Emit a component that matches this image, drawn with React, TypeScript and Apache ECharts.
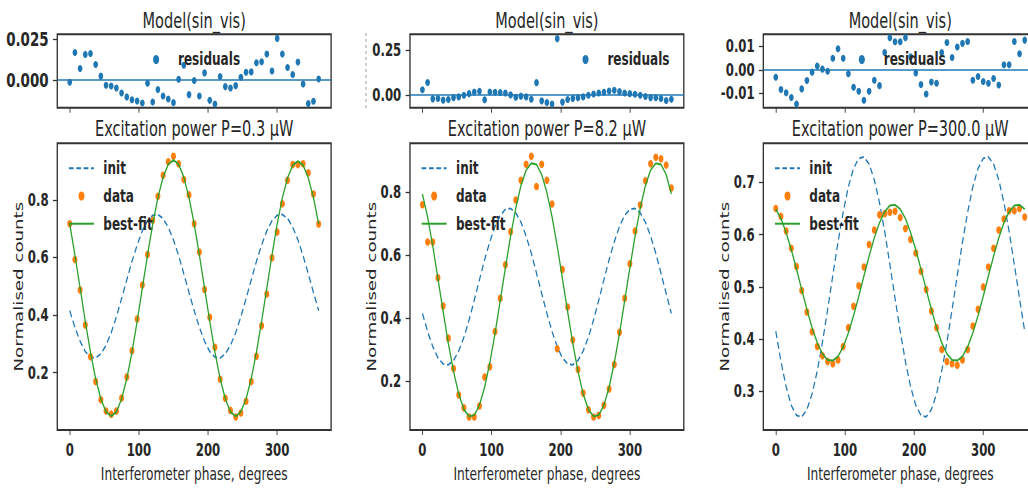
import React, { useEffect, useRef } from 'react';
import * as echarts from 'echarts';

// ---------------- data ----------------
const PHASE = [0, 7.5, 15, 22.5, 30, 37.5, 45, 52.5, 60, 67.5, 75, 82.5, 90, 97.5, 105, 112.5, 120, 127.5, 135, 142.5, 150, 157.5, 165, 172.5, 180, 187.5, 195, 202.5, 210, 217.5, 225, 232.5, 240, 247.5, 255, 262.5, 270, 277.5, 285, 292.5, 300, 307.5, 315, 322.5, 330, 337.5, 345, 352.5, 360];

const INIT_CURVE = [0.415, 0.357, 0.309, 0.273, 0.254, 0.251, 0.265, 0.295, 0.339, 0.394, 0.457, 0.522, 0.586, 0.643, 0.692, 0.727, 0.746, 0.749, 0.735, 0.705, 0.661, 0.606, 0.543, 0.478, 0.415, 0.357, 0.309, 0.273, 0.254, 0.251, 0.265, 0.295, 0.339, 0.394, 0.457, 0.522, 0.586, 0.643, 0.692, 0.727, 0.746, 0.749, 0.735, 0.705, 0.661, 0.606, 0.543, 0.478, 0.415];

const DATA_P03 = [0.717, 0.593, 0.487, 0.365, 0.255, 0.169, 0.106, 0.067, 0.056, 0.067, 0.112, 0.185, 0.276, 0.386, 0.504, 0.610, 0.729, 0.812, 0.885, 0.932, 0.951, 0.925, 0.870, 0.817, 0.717, 0.619, 0.489, 0.392, 0.288, 0.177, 0.111, 0.069, 0.046, 0.060, 0.101, 0.169, 0.257, 0.363, 0.473, 0.599, 0.688, 0.786, 0.868, 0.922, 0.922, 0.925, 0.894, 0.820, 0.716];
const FIT_P03 = [0.716, 0.608, 0.494, 0.378, 0.271, 0.179, 0.109, 0.064, 0.049, 0.064, 0.109, 0.179, 0.271, 0.378, 0.494, 0.608, 0.716, 0.808, 0.878, 0.923, 0.938, 0.923, 0.878, 0.808, 0.716, 0.608, 0.494, 0.378, 0.271, 0.179, 0.109, 0.064, 0.048, 0.064, 0.109, 0.179, 0.271, 0.378, 0.494, 0.608, 0.716, 0.807, 0.876, 0.920, 0.934, 0.920, 0.876, 0.807, 0.716];
const RESID_P03 = [-0.0012, 0.0170, 0.0072, 0.0158, 0.0164, 0.0096, 0.0025, -0.0031, -0.0035, -0.0047, -0.0078, -0.0102, -0.0119, -0.0127, -0.0139, -0.0018, -0.0133, -0.0057, -0.0096, -0.0115, -0.0137, 0.0006, 0.0092, -0.0088, -0.0002, -0.0096, 0.0045, -0.0123, -0.0145, 0.0023, -0.0039, -0.0047, -0.0033, 0.0018, 0.0049, 0.0051, 0.0107, 0.0113, 0.0160, 0.0057, 0.0256, 0.0160, 0.0078, 0.0035, 0.0111, -0.0023, -0.0143, -0.0129, 0.0008];

const DATA_P82 = [0.761, 0.642, 0.642, 0.528, 0.438, 0.336, 0.239, 0.155, 0.114, 0.085, 0.085, 0.120, 0.212, 0.245, 0.357, 0.463, 0.570, 0.675, 0.776, 0.839, 0.890, 0.915, 0.819, 0.890, 0.839, 0.763, 0.302, 0.555, 0.435, 0.330, 0.236, 0.161, 0.108, 0.085, 0.090, 0.122, 0.174, 0.252, 0.355, 0.463, 0.573, 0.677, 0.760, 0.837, 0.891, 0.912, 0.907, 0.887, 0.814];
const FIT_P82 = [0.795, 0.722, 0.629, 0.525, 0.420, 0.319, 0.230, 0.158, 0.109, 0.087, 0.091, 0.123, 0.180, 0.258, 0.351, 0.455, 0.560, 0.661, 0.750, 0.822, 0.871, 0.893, 0.889, 0.857, 0.800, 0.722, 0.629, 0.525, 0.420, 0.319, 0.230, 0.158, 0.109, 0.087, 0.091, 0.123, 0.180, 0.258, 0.351, 0.455, 0.560, 0.661, 0.750, 0.822, 0.871, 0.893, 0.889, 0.857, 0.795];
const RESID_P82 = [0.029, 0.069, -0.022, -0.020, -0.029, -0.026, -0.015, -0.011, -0.002, 0.007, 0.016, 0.020, -0.027, 0.016, 0.015, 0.013, 0.011, 0.000, -0.013, -0.007, -0.011, -0.024, 0.068, -0.033, -0.042, -0.051, 0.312, -0.040, -0.026, -0.020, -0.016, -0.011, -0.002, 0.005, 0.011, 0.015, 0.022, 0.026, 0.018, 0.011, 0.007, 0.004, -0.002, -0.009, -0.015, -0.016, -0.020, -0.031, -0.024];

const DATA_P300 = [0.650, 0.635, 0.607, 0.574, 0.539, 0.493, 0.452, 0.414, 0.386, 0.368, 0.357, 0.353, 0.360, 0.386, 0.422, 0.463, 0.502, 0.538, 0.581, 0.609, 0.638, 0.640, 0.643, 0.645, 0.633, 0.612, 0.591, 0.565, 0.530, 0.495, 0.454, 0.422, 0.380, 0.357, 0.353, 0.350, 0.360, 0.380, 0.425, 0.457, 0.500, 0.538, 0.574, 0.609, 0.630, 0.646, 0.646, 0.650, 0.634];
const FIT_P300 = [0.649, 0.631, 0.604, 0.571, 0.534, 0.495, 0.457, 0.422, 0.393, 0.372, 0.360, 0.359, 0.367, 0.385, 0.412, 0.445, 0.482, 0.521, 0.559, 0.594, 0.623, 0.644, 0.656, 0.657, 0.649, 0.631, 0.604, 0.571, 0.534, 0.495, 0.457, 0.422, 0.393, 0.372, 0.360, 0.359, 0.367, 0.385, 0.412, 0.445, 0.482, 0.521, 0.559, 0.594, 0.623, 0.644, 0.656, 0.657, 0.649];
const RESID_P300 = [-0.0032, -0.0085, -0.0099, -0.0119, -0.0147, -0.0082, -0.0046, -0.0010, 0.0016, 0.0003, -0.0006, 0.0050, 0.0091, 0.0050, -0.0017, -0.0075, -0.0092, -0.0131, -0.0092, -0.0045, -0.0068, 0.0075, 0.0138, 0.0121, 0.0121, 0.0138, 0.0056, -0.0013, -0.0063, -0.0104, -0.0052, -0.0058, 0.0075, 0.0118, 0.0053, 0.0098, 0.0114, 0.0122, -0.0045, -0.0029, -0.0050, -0.0058, -0.0037, -0.0065, 0.0022, 0.0022, 0.0122, 0.0069, 0.0128];

const PANEL_TITLES = ['Excitation power P=0.3 μW', 'Excitation power P=8.2 μW', 'Excitation power P=300.0 μW'];
const RESID_TITLE = 'Model(sin_vis)';
const X_NAME = 'Interferometer phase, degrees';
const Y_NAME = 'Normalised counts';
const SERIES_NAMES = ['init', 'data', 'best-fit', 'residuals'];

const X_TICKS = [0, 100, 200, 300];
const X_RANGE = [-18, 378];
const MAIN_Y_TICKS = [[0.2, 0.4, 0.6, 0.8], [0.2, 0.4, 0.6, 0.8], [0.3, 0.4, 0.5, 0.6, 0.7]];
const MAIN_Y_RANGE = [[0.001, 0.996], [0.0435, 0.9565], [0.226, 0.775]];
const RESID_Y_TICKS = [[0, 0.025], [0, 0.25], [-0.01, 0, 0.01]];
const RESID_DECIMALS = [3, 2, 2];
const RESID_Y_RANGE = [[-0.0168, 0.0281], [-0.071, 0.336], [-0.0163, 0.0153]];

const DATA_SETS = [DATA_P03, DATA_P82, DATA_P300];
const FIT_SETS = [FIT_P03, FIT_P82, FIT_P300];
const RESID_SETS = [RESID_P03, RESID_P82, RESID_P300];

// ---------------- layout / style ----------------
const S = 0.67; // horizontal squeeze of the whole figure
const CW = 1560;
const CH = 488;
const GRID_LEFT = [85.5, 611.9, 1139.3];
const GRID_W = 408.7;
const MAIN_TOP = 143.3;
const MAIN_H = 291.7;
const RES_TOP = 34.3;
const RES_H = 73.4;
const RES_LEGEND_OFF = [143, 257.5, 142.5];
const RES_TICK_FONT = [20, 17.5, 17.5];

const BLUE = '#1f77b4';
const ORANGE = '#ff7f0e';
const GREEN = '#2ca02c';
const INK = '#262626';
const FRAME = '#333333';
const FONT = 'DejaVu Sans';

const pairs = (ys: number[]) => PHASE.map((p, i) => [p, ys[i]]);

const tickLabel = {
  fontFamily: FONT,
  fontWeight: 'bold',
  fontSize: 17.5,
  color: INK,
};

const hiddenSymbol = { color: 'rgba(0,0,0,0)', opacity: 0, borderWidth: 0 };

function buildOption() {
  const grids: any[] = [];
  const xAxes: any[] = [];
  const yAxes: any[] = [];
  const series: any[] = [];
  const titles: any[] = [];
  const legends: any[] = [];

  for (let i = 0; i < 3; i++) {
    grids.push({ left: GRID_LEFT[i], top: MAIN_TOP, width: GRID_W, height: MAIN_H, show: true, borderColor: FRAME, borderWidth: 2, backgroundColor: 'transparent' });
  }
  for (let i = 0; i < 3; i++) {
    grids.push({ left: GRID_LEFT[i], top: RES_TOP, width: GRID_W, height: RES_H, show: true, borderColor: FRAME, borderWidth: 2, backgroundColor: 'transparent' });
  }

  for (let g = 0; g < 6; g++) {
    const isMain = g < 3;
    xAxes.push({
      type: 'value', gridIndex: g, min: X_RANGE[0], max: X_RANGE[1], position: 'bottom',
      axisLine: { show: false, onZero: false }, splitLine: { show: false },
      axisTick: { show: true, customValues: X_TICKS, length: 5, lineStyle: { color: FRAME, width: 1.3 } },
      axisLabel: isMain ? { show: true, customValues: X_TICKS, margin: 11.5, ...tickLabel } : { show: false },
      name: isMain ? X_NAME : '', nameLocation: 'middle', nameGap: 35,
      nameTextStyle: { fontFamily: FONT, fontSize: 18.2, color: INK },
    });
  }
  for (let i = 0; i < 3; i++) {
    yAxes.push({
      type: 'value', gridIndex: i, min: MAIN_Y_RANGE[i][0], max: MAIN_Y_RANGE[i][1], position: 'left',
      axisLine: { show: false, onZero: false }, splitLine: { show: false },
      axisTick: { show: true, customValues: MAIN_Y_TICKS[i], length: 6.5, lineStyle: { color: FRAME, width: 1.3 } },
      axisLabel: { show: true, customValues: MAIN_Y_TICKS[i], margin: 13, formatter: (v: number) => v.toFixed(1), ...tickLabel },
      name: Y_NAME, nameLocation: 'middle', nameGap: 45,
      nameTextStyle: { fontFamily: FONT, fontSize: 18.2, color: INK },
    });
  }
  for (let i = 0; i < 3; i++) {
    yAxes.push({
      type: 'value', gridIndex: 3 + i, min: RESID_Y_RANGE[i][0], max: RESID_Y_RANGE[i][1], position: 'left',
      axisLine: { show: false, onZero: false }, splitLine: { show: false },
      axisTick: { show: true, customValues: RESID_Y_TICKS[i], length: 6.5, lineStyle: { color: FRAME, width: 1.3 } },
      axisLabel: { show: true, customValues: RESID_Y_TICKS[i], margin: 13, formatter: (v: number) => v.toFixed(RESID_DECIMALS[i]), ...tickLabel, fontSize: RES_TICK_FONT[i] },
    });
  }

  for (let i = 0; i < 3; i++) {
    series.push({
      type: 'line', name: SERIES_NAMES[0], xAxisIndex: i, yAxisIndex: i, data: pairs(INIT_CURVE),
      symbol: 'none', lineStyle: { color: BLUE, width: 1.8, type: [7, 4] }, itemStyle: { color: BLUE }, z: 2,
    });
    series.push({
      type: 'scatter', name: SERIES_NAMES[1], xAxisIndex: i, yAxisIndex: i, data: pairs(DATA_SETS[i]),
      symbol: 'circle', symbolSize: 7.5, itemStyle: { color: ORANGE, opacity: 1 }, z: 3,
    });
    series.push({
      type: 'line', name: SERIES_NAMES[2], xAxisIndex: i, yAxisIndex: i, data: pairs(FIT_SETS[i]),
      symbol: 'none', lineStyle: { color: GREEN, width: 1.9 }, itemStyle: { color: GREEN }, z: 4,
    });
    series.push({
      type: 'scatter', name: SERIES_NAMES[3], xAxisIndex: 3 + i, yAxisIndex: 3 + i, data: pairs(RESID_SETS[i]),
      symbol: 'circle', symbolSize: 7, itemStyle: { color: BLUE, opacity: 1 }, z: 3,
      markLine: {
        silent: true, symbol: ['none', 'none'], label: { show: false },
        lineStyle: { color: BLUE, type: 'solid', width: 1.6 },
        data: [{ yAxis: 0 }],
      },
    });

    const cx = GRID_LEFT[i] + GRID_W / 2;
    titles.push({ text: PANEL_TITLES[i], left: cx, top: 117, textAlign: 'center', padding: 0,
      textStyle: { fontFamily: FONT, fontWeight: 'normal', fontSize: 21.7, color: INK } });
    titles.push({ text: RESID_TITLE, left: cx, top: 9, textAlign: 'center', padding: 0,
      textStyle: { fontFamily: FONT, fontWeight: 'normal', fontSize: 21.7, color: INK } });

    legends.push({
      data: [
        { name: SERIES_NAMES[0], itemStyle: hiddenSymbol },
        SERIES_NAMES[1],
        { name: SERIES_NAMES[2], itemStyle: hiddenSymbol },
      ],
      orient: 'vertical', left: GRID_LEFT[i] + 16.4, top: 159.3,
      itemWidth: 37.3, itemHeight: 9, itemGap: 9.7, padding: 0, selectedMode: false,
      textStyle: { fontFamily: FONT, fontWeight: 'bold', fontSize: 18, color: INK, padding: [0, 0, 0, 9] },
    });
    legends.push({
      data: [SERIES_NAMES[3]], orient: 'vertical', left: GRID_LEFT[i] + RES_LEGEND_OFF[i], top: 50.5,
      itemWidth: 37.3, itemHeight: 9, padding: 0, selectedMode: false,
      textStyle: { fontFamily: FONT, fontWeight: 'bold', fontSize: 18, color: INK, padding: [0, 0, 0, 9] },
    });
  }

  return {
    animation: false,
    backgroundColor: '#ffffff',
    title: titles,
    legend: legends,
    grid: grids,
    xAxis: xAxes,
    yAxis: yAxes,
    series,
    graphic: [
      { type: 'line', silent: true, shape: { x1: 366 / S, y1: 33, x2: 366 / S, y2: 110 },
        style: { stroke: '#888888', lineWidth: 1.2, lineDash: [3, 3] } },
    ],
  };
}

export default function App() {
  const ref = useRef<HTMLDivElement | null>(null);
  useEffect(() => {
    if (!ref.current) return;
    const chart = echarts.init(ref.current, undefined, { renderer: 'svg' });
    chart.setOption(buildOption() as any);
    return () => chart.dispose();
  }, []);
  return (
    <div style={{ position: 'fixed', left: 0, top: 0, width: 1028, height: CH, overflow: 'hidden', background: '#fff' }}>
      <div ref={ref} style={{ width: CW, height: CH, transform: `scaleX(${S})`, transformOrigin: '0 0' }} />
    </div>
  );
}
